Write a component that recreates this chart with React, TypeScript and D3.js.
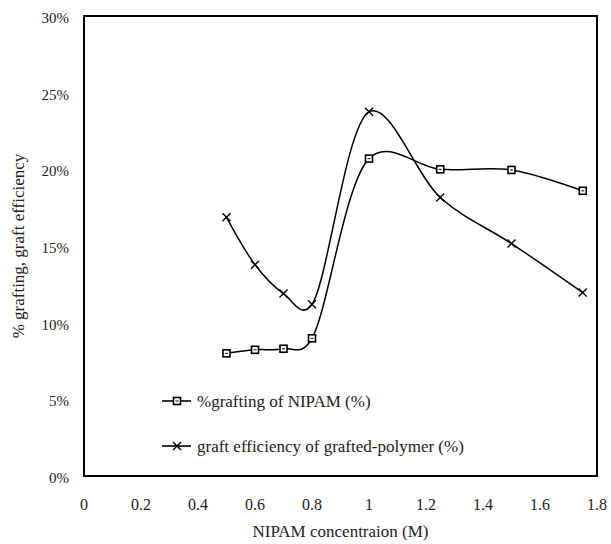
import React from "react";
import * as d3 from "d3";

const concentrations = [0.5, 0.6, 0.7, 0.8, 1.0, 1.25, 1.5, 1.75];
const graftingPct = [8.0, 8.23, 8.3, 8.98, 20.7, 20.0, 19.96, 18.6];
const efficiencyPct = [16.87, 13.78, 11.9, 11.2, 23.75, 18.16, 15.16, 11.96];
const xTicks = [0, 0.2, 0.4, 0.6, 0.8, 1, 1.2, 1.4, 1.6, 1.8];
const yTicks = [0, 5, 10, 15, 20, 25, 30];
const legendLabels = ["%grafting of NIPAM (%)", "graft efficiency of grafted-polymer (%)"];
const xTitle = "NIPAM concentraion (M)";
const yTitle = "% grafting, graft efficiency";

const W = 611, H = 544;
const L = 84, R = 597, T = 16, B = 476;
const FONT = "'Liberation Serif', 'DejaVu Serif', serif";

export default function App() {
  const x = d3.scaleLinear().domain([0, 1.8]).range([L, R]);
  const y = d3.scaleLinear().domain([0, 30]).range([B, T]);
  const line = d3
    .line<[number, number]>()
    .x((d) => x(d[0]))
    .y((d) => y(d[1]))
    .curve(d3.curveCatmullRom.alpha(0.2));
  const gData = concentrations.map((c, i) => [c, graftingPct[i]] as [number, number]);
  const eData = concentrations.map((c, i) => [c, efficiencyPct[i]] as [number, number]);

  const square = (cx: number, cy: number, k: string) => (
    <g key={k}>
      <rect x={cx - 3.5} y={cy - 3.5} width={7} height={7} fill="white" stroke="black" strokeWidth={1.6} />
      <line x1={cx - 1.5} x2={cx + 1.5} y1={cy} y2={cy} stroke="black" strokeWidth={1} />
    </g>
  );
  const cross = (cx: number, cy: number, k: string) => (
    <g key={k} stroke="black" strokeWidth={1.4}>
      <line x1={cx - 4} y1={cy - 4} x2={cx + 4} y2={cy + 4} />
      <line x1={cx - 4} y1={cy + 4} x2={cx + 4} y2={cy - 4} />
    </g>
  );

  return (
    <svg width={W} height={H} style={{ position: "absolute", left: 0, top: 0, background: "white" }} fontFamily={FONT}>
      <rect x={0} y={0} width={W} height={H} fill="white" />
      <rect x={L} y={T} width={R - L} height={B - T} fill="none" stroke="black" strokeWidth={2} />
      {yTicks.map((t) => (
        <text key={"y" + t} x={L - 15} y={y(t) + 7} textAnchor="end" fontSize={15} fill="#222">
          {t + "%"}
        </text>
      ))}
      {xTicks.map((t) => (
        <text key={"x" + t} x={x(t)} y={510} textAnchor="middle" fontSize={16} fill="#222">
          {String(t)}
        </text>
      ))}
      <text x={(L + R) / 2} y={537} textAnchor="middle" fontSize={17} fill="#222">
        {xTitle}
      </text>
      <text
        transform={`translate(${20},${(T + B) / 2}) rotate(-90)`}
        textAnchor="middle"
        dominantBaseline="middle"
        fontSize={17}
        fill="#222"
      >
        {yTitle}
      </text>
      <path d={line(eData) || ""} fill="none" stroke="black" strokeWidth={1.5} />
      <path d={line(gData) || ""} fill="none" stroke="black" strokeWidth={1.5} />
      {gData.map((d, i) => square(x(d[0]), y(d[1]), "s" + i))}
      {eData.map((d, i) => cross(x(d[0]), y(d[1]), "c" + i))}
      <g>
        <line x1={162} x2={191} y1={401} y2={401} stroke="black" strokeWidth={1.6} />
        {square(177, 401, "ls")}
        <text x={197} y={407} fontSize={17} fill="#222">{legendLabels[0]}</text>
        <line x1={162} x2={191} y1={446} y2={446} stroke="black" strokeWidth={1.6} />
        {cross(177, 446, "lc")}
        <text x={197} y={452} fontSize={17} fill="#222">{legendLabels[1]}</text>
      </g>
    </svg>
  );
}
